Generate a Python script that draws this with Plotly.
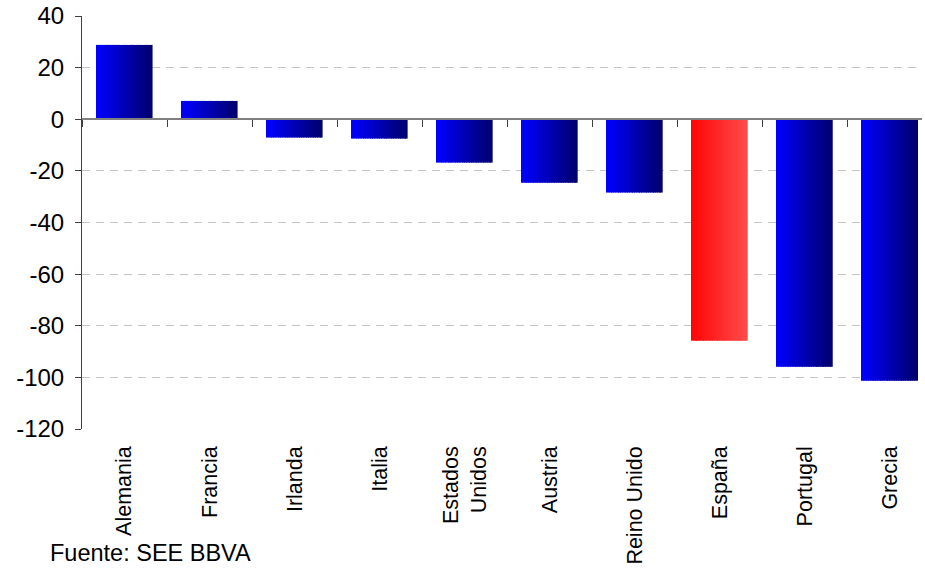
import plotly.graph_objects as go

# Countries and their values
countries = ["Alemania", "Francia", "Irlanda", "Italia", "Estados<br>Unidos",
             "Austria", "Reino Unido", "España", "Portugal", "Grecia"]
values = [28.8, 7.1, -7.1, -7.5, -16.8, -24.6, -28.4, -85.8, -95.9, -101.3]
highlight = "España"

y_ticks = [40, 20, 0, -20, -40, -60, -80, -100, -120]
y_tick_text = ["40", "20", "0", "-20", "-40", "-60", "-80", "-100", "-120"]

FONT = "Arial, 'Liberation Sans', sans-serif"
BAR_WIDTH = 0.66
N_SLICES = 32


def lerp(c0, c1, t):
    return "rgb(%d,%d,%d)" % tuple(round(a + (b - a) * t) for a, b in zip(c0, c1))


BLUE_L, BLUE_R = (0, 0, 255), (0, 0, 110)
RED_L, RED_R = (255, 6, 6), (255, 74, 74)

fig = go.Figure()

# Each bar is built from thin vertical slices to get a left-to-right gradient
step = BAR_WIDTH / N_SLICES
for i in range(N_SLICES):
    t = i / (N_SLICES - 1)
    colors = [lerp(RED_L, RED_R, t) if c == highlight else lerp(BLUE_L, BLUE_R, t)
              for c in countries]
    fig.add_trace(go.Bar(
        x=countries, y=values,
        offset=-BAR_WIDTH / 2 + i * step,
        width=step * 1.08 if i < N_SLICES - 1 else step,
        marker=dict(color=colors, line=dict(width=0)),
        showlegend=False,
        hoverinfo="skip" if i else "x+y",
    ))

# Invisible trace that carries the category axis drawn at zero
fig.add_trace(go.Scatter(
    x=list(range(len(countries))), y=values, xaxis="x2",
    mode="markers", marker=dict(opacity=0), showlegend=False, hoverinfo="skip",
))

x_range = [-0.5, 9.38]

fig.update_layout(
    width=925, height=570,
    margin=dict(l=82, r=3, t=16, b=141, autoexpand=False),
    paper_bgcolor="white", plot_bgcolor="white",
    barmode="overlay",
    font=dict(family=FONT, color="black"),
    xaxis=dict(
        type="category", range=x_range, automargin=False,
        showline=False, showgrid=False, zeroline=False,
        ticks="", tickangle=-90,
        tickfont=dict(size=21.5, family=FONT, color="black"),
        ticklabelstandoff=12,
    ),
    xaxis2=dict(
        overlaying="x", anchor="free", position=0.75, side="bottom",
        range=x_range, showgrid=False, zeroline=False, automargin=False,
        showline=True, linecolor="#808080", linewidth=2,
        ticks="outside", ticklen=7, tickwidth=1, tickcolor="#404040",
        tickmode="array",
        tickvals=[i - 0.5 for i in range(len(countries) + 1)],
        showticklabels=False,
    ),
    yaxis=dict(
        range=[-120, 40], tickmode="array", tickvals=y_ticks, ticktext=y_tick_text,
        showline=True, linecolor="#404040", linewidth=1, automargin=False,
        ticks="outside", ticklen=6, tickcolor="#404040",
        showgrid=True, gridcolor="#c4c4c4", gridwidth=1, griddash="8px,6px",
        zeroline=False,
        tickfont=dict(size=24, family=FONT, color="black"),
        ticklabelstandoff=6,
    ),
    annotations=[dict(
        text="Fuente: SEE BBVA", xref="paper", yref="paper",
        x=-34 / 840, y=(429 - 553) / 413, xanchor="left", yanchor="middle",
        showarrow=False, font=dict(size=23.5, family=FONT, color="black"),
    )],
)

fig.write_html("out.html")
